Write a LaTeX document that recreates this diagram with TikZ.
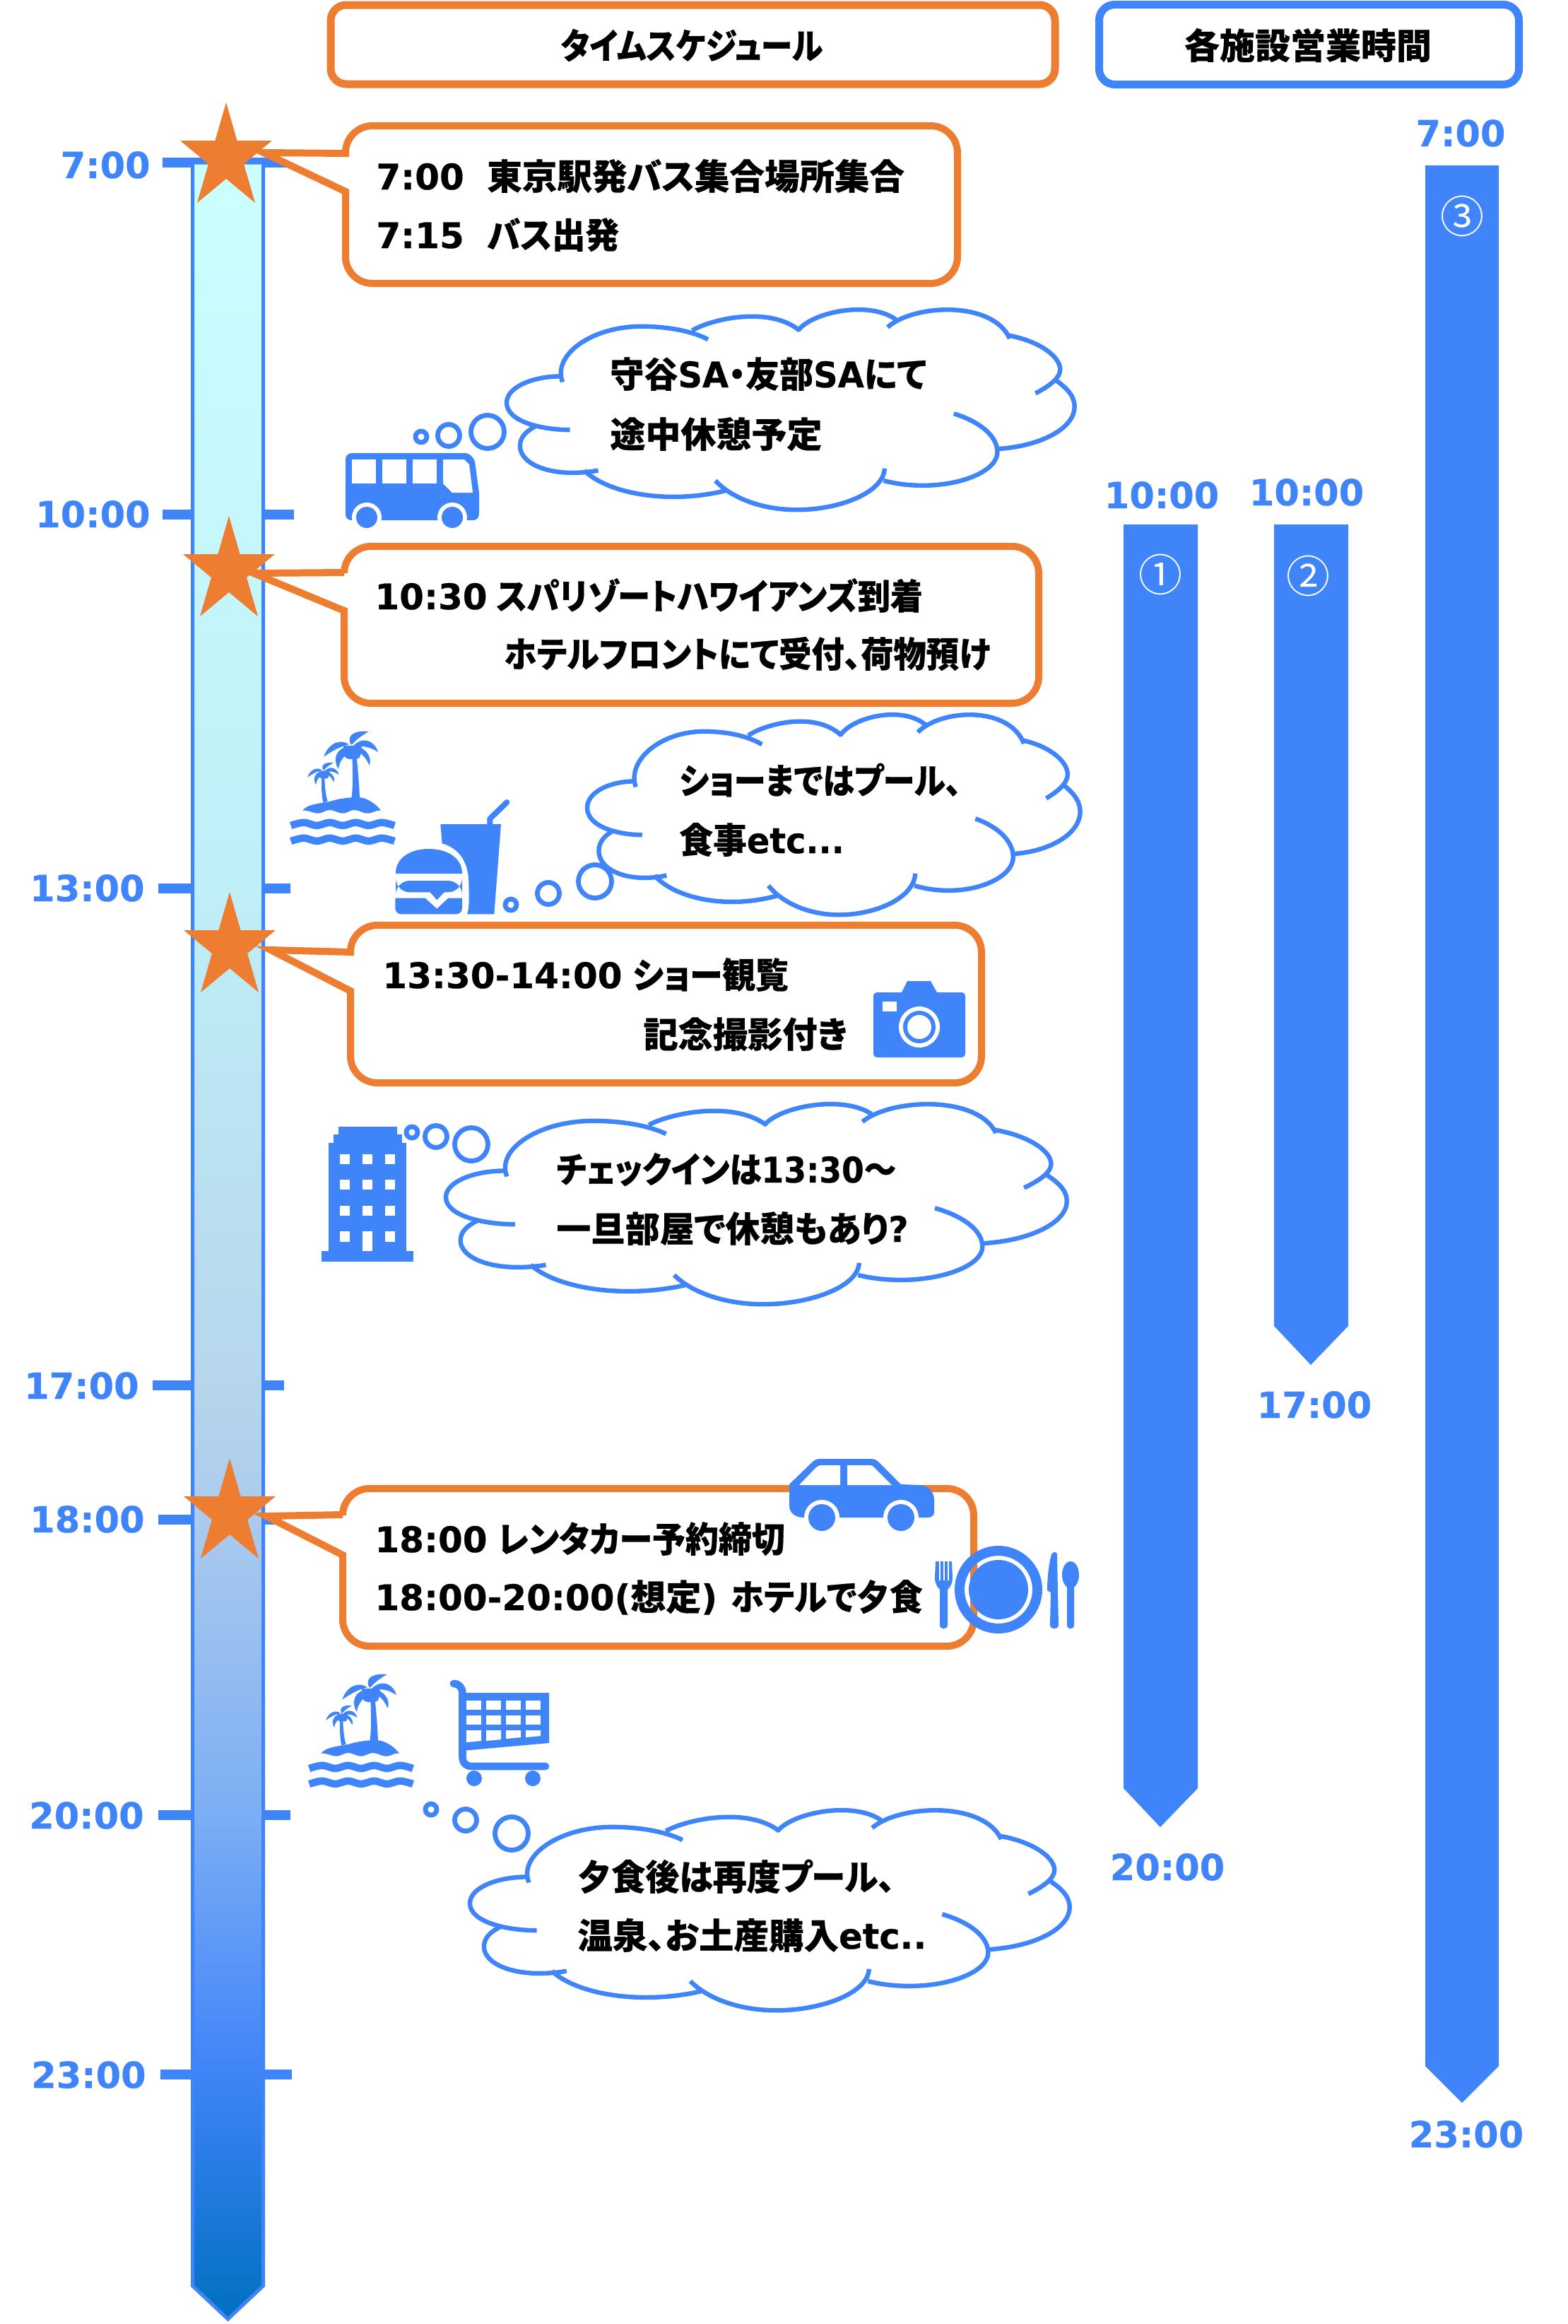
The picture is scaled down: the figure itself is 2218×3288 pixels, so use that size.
\documentclass[tikz,border=0pt]{standalone}
\usepackage{graphicx}
\usepackage{fontspec}
\setmainfont{Noto Sans CJK JP}[RawFeature={+palt},BoldFeatures={FakeBold=0.4}]
\newfontfamily\ltf{DejaVu Sans}[BoldFeatures={FakeBold=0.4}]
\newcommand\latn[1]{{\ltf\bfseries #1}}
\newcommand\pxsize[1]{\fontsize{#1}{#1}\selectfont}
\newcommand\sx[2]{\scalebox{#1}[1]{#2}}
\definecolor{bl}{HTML}{3F84F8}
\definecolor{og}{HTML}{ED7D31}
\definecolor{ga}{HTML}{CBFFFF}
\definecolor{gb}{HTML}{BFEFF7}
\definecolor{gc}{HTML}{B6D6EC}
\definecolor{gd}{HTML}{ABCBEE}
\definecolor{ge}{HTML}{7CAEF4}
\definecolor{gf}{HTML}{3F84F8}
\definecolor{gg}{HTML}{0070C0}
\pgfdeclareverticalshading{tlgrad}{100bp}{color(0bp)=(gg); color(25bp)=(gg); color(30.75bp)=(gf); color(36.75bp)=(ge); color(43.6bp)=(gd); color(46.7bp)=(gc); color(58.2bp)=(gb); color(75bp)=(ga); color(100bp)=(ga)}
\tikzset{
  x=.5pt,y=-.5pt,
  tx/.style={anchor=base west,inner sep=0pt,font=\pxsize{25}\bfseries,text=black},
  tick/.style={line width=7pt,draw=bl},
  tlabel/.style={anchor=base east,inner sep=0pt,font=\pxsize{25.5}\ltf\bfseries,text=bl},
  barlabel/.style={anchor=base,inner sep=0pt,font=\pxsize{25.5}\ltf\bfseries,text=bl},
  circnum/.style={inner sep=0pt,font=\pxsize{31},text=white},
  titlebox/.style={line width=5.5pt,rounded corners=11pt,fill=white},
  titletext/.style={inner sep=0pt,font=\pxsize{25}\bfseries},
  cloudline/.style={draw=bl,line width=3.2pt,line cap=butt},
  ring/.style={draw=bl,line width=3.4pt},
  icon/.style={fill=bl,draw=none},
  hole/.style={fill=white,draw=none},
}
% x0 y0 x1 y1 tipx tipy ya yb
\newcommand\callout[8]{%
  \draw[draw=og,fill=white,line width=5pt,line join=miter]
    (#1,#7) -- (#5,#6) -- (#1,#8) -- (#1,#4-38)
    .. controls (#1,#4-17) and (#1+17,#4) .. (#1+38,#4) -- (#3-38,#4)
    .. controls (#3-17,#4) and (#3,#4-17) .. (#3,#4-38) -- (#3,#2+38)
    .. controls (#3,#2+17) and (#3-17,#2) .. (#3-38,#2) -- (#1+38,#2)
    .. controls (#1+17,#2) and (#1,#2+17) .. (#1,#2+38) -- cycle;}
\newcommand\starshape[2]{%
  \fill[og,shift={(#1,#2)}] (0,0) -- (15.6,54) -- (65,54) -- (25.1,87) -- (41,142) -- (0,108)
     -- (-41,142) -- (-25.1,87) -- (-65,54) -- (-15.6,54) -- cycle;}
% x0 y0 w h
\newcommand\cloudshape[4]{%
  \begin{scope}[shift={(#1,#2)},xscale={#3/1147},yscale={#4/500},shift={(-328,-975)}]
  \draw[cloudline] (456,1275) .. controls (400,1275) and (328,1255) .. (328,1208) .. controls (328,1170) and (380,1143) .. (437,1143);
  \draw[cloudline] (441,1157) .. controls (420,1090) and (500,1020) .. (600,1020) .. controls (650,1020) and (700,1030) .. (735,1052);
  \draw[cloudline] (703,1030) .. controls (745,1000) and (860,970) .. (920,1030);
  \draw[cloudline] (917,1030) .. controls (945,985) and (1060,955) .. (1115,1003);
  \draw[cloudline] (1098,1022) .. controls (1150,965) and (1310,955) .. (1345,1050);
  \draw[cloudline] (1342,1042) .. controls (1400,1055) and (1445,1090) .. (1447,1125) .. controls (1447,1150) and (1420,1170) .. (1397,1185);
  \draw[cloudline] (1435,1150) .. controls (1465,1175) and (1476,1195) .. (1476,1218) .. controls (1476,1270) and (1410,1315) .. (1320,1322);
  \draw[cloudline] (1232,1235) .. controls (1285,1255) and (1320,1290) .. (1320,1330) .. controls (1320,1375) and (1250,1412) .. (1170,1412) .. controls (1140,1412) and (1115,1408) .. (1090,1400);
  \draw[cloudline] (1092,1370) .. controls (1090,1430) and (1000,1472) .. (915,1472) .. controls (840,1472) and (780,1440) .. (750,1400);
  \draw[cloudline] (770,1425) .. controls (650,1460) and (530,1430) .. (485,1375);
  \draw[cloudline] (513,1375) .. controls (420,1395) and (355,1360) .. (355,1315) .. controls (355,1295) and (365,1280) .. (385,1267);
  \end{scope}}
\newcommand\crown{%
  \fill (175,152) .. controls (195,90) and (250,75) .. (282,100) .. controls (250,105) and (205,130) .. (175,152) -- cycle;
  \fill (265,112) .. controls (222,125) and (215,170) .. (237,205) .. controls (240,170) and (262,150) .. (285,125) -- cycle;
  \fill (290,100) .. controls (265,55) and (320,38) .. (365,45) .. controls (340,60) and (315,75) .. (295,100) -- cycle;
  \fill (300,105) .. controls (345,60) and (395,90) .. (405,133) .. controls (375,110) and (340,105) .. (310,110) -- cycle;
  \fill (305,105) .. controls (360,115) and (380,160) .. (368,188) .. controls (355,160) and (335,130) .. (300,125) -- cycle;
  \fill (258,105) -- (335,105) .. controls (335,150) and (325,165) .. (310,160) .. controls (295,160) and (280,170) .. (262,150) -- cycle;}
\newcommand\islandicon[2]{%
  \begin{scope}[shift={(#1,#2)},scale=1/3,bl]
  \begin{scope}\crown\end{scope}
  \fill (295,140) .. controls (297,210) and (300,270) .. (292,328) -- (327,328) .. controls (325,270) and (320,210) .. (313,140) -- cycle;
  \begin{scope}[shift={(175,215)},scale=.58,shift={(-295,-110)}]\crown\end{scope}
  \fill (165,240) .. controls (165,290) and (165,315) .. (172,346) -- (191,342) .. controls (183,315) and (180,290) .. (178,240) -- cycle;
  \fill (85,380) .. controls (105,352) and (160,350) .. (200,342) .. controls (250,325) and (320,320) .. (345,328) .. controls (380,340) and (400,360) .. (418,380)
    .. controls (390,378) and (385,392) .. (360,392) .. controls (340,392) and (325,378) .. (305,378) .. controls (285,378) and (275,392) .. (255,392)
    .. controls (235,392) and (220,378) .. (200,378) .. controls (180,378) and (170,392) .. (150,392) .. controls (130,392) and (110,378) .. (85,380) -- cycle;
  \draw[line width=5.2pt] plot[smooth,tension=.55] coordinates {(35,444)(90,431)(145,444)(200,431)(255,444)(310,431)(365,444)(420,431)(475,444)};
  \draw[line width=5.2pt] plot[smooth,tension=.55] coordinates {(35,510)(90,497)(145,510)(200,497)(255,510)(310,497)(365,510)(420,497)(475,510)};
  \end{scope}}
\begin{document}
\begin{tikzpicture}
\useasboundingbox (0,0) rectangle (2218,3288);
% title boxes
\draw[titlebox,draw=og] (468,7) rectangle (1493,119);
\draw[titlebox,draw=bl] (1555.5,6.5) rectangle (2149.5,119.5);
\node[titletext] (t1) at (979,64) {\sx{.893}{タイムスケジュール}};
\node[titletext] (t2) at (1851,64) {各施設営業時間};
% ticks
\draw[tick] (230,230) -- (416,230);
\draw[tick] (230,728) -- (416,728);
\draw[tick] (224,1257) -- (411,1257);
\draw[tick] (216,1960) -- (402,1960);
\draw[tick] (224,2150) -- (411,2150);
\draw[tick] (224,2568) -- (411,2568);
\draw[tick] (227,2935) -- (413,2935);
% time line column
\shade[shading=tlgrad] (272.5,230) -- (372.5,230) -- (372.5,3234) -- (322.5,3281) -- (272.5,3234) -- cycle;
\draw[draw=bl,line width=2.5pt] (272.5,230) -- (372.5,230) -- (372.5,3234) -- (322.5,3281) -- (272.5,3234) -- cycle;
% time labels
\node[tlabel] (a7) at (213,252) {7:00};
\node[tlabel] (a10) at (213,746) {10:00};
\node[tlabel] (a13) at (205,1275) {13:00};
\node[tlabel] (a17) at (197,1979) {17:00};
\node[tlabel] (a18) at (205,2168) {18:00};
\node[tlabel] (a20) at (204,2587) {20:00};
\node[tlabel] (a23) at (207,2954) {23:00};
% callouts
\callout{489}{178}{1355}{401}{373}{216}{217}{271}
\callout{487}{773}{1470}{995}{359}{811}{810}{864}
\callout{496}{1309}{1389}{1532}{383}{1344}{1347}{1402}
\callout{485}{2106}{1378}{2329}{377}{2145}{2143}{2200}
% stars
\starshape{320}{145}
\starshape{324}{730}
\starshape{325}{1262}
\starshape{325}{2063}
% callout text
\node[tx] (c1a) at (532,268) {\makebox[78.5pt][l]{\latn{7:00}}\sx{.99}{東京駅発バス集合場所集合}};
\node[tx] (c1b) at (532,351) {\makebox[78.5pt][l]{\latn{7:15}}\sx{.95}{バス出発}};
\node[tx] (c2a) at (530,862) {\makebox[86pt][l]{\latn{10:30}}\sx{.923}{スパリゾートハワイアンズ到着}};
\node[tx] (c2b) at (713,944) {\sx{.927}{ホテルフロントにて受付、荷物預け}};
\node[tx] (c3a) at (541,1398) {\makebox[177pt][l]{\latn{13:30-14:00}}\sx{.937}{ショー観覧}};
\node[tx] (c3b) at (910,1482) {\sx{.985}{記念撮影付き}};
\node[tx] (c4a) at (530,2196) {\makebox[87pt][l]{\latn{18:00}}\sx{.94}{レンタカー予約締切}};
\node[tx] (c4b) at (530,2278) {\makebox[252pt][l]{\latn{18:00-20:00(}想定\latn{)}}\sx{.935}{ホテルで夕食}};
% clouds
\cloudshape{717}{436}{803}{287}
\cloudshape{831}{1009}{697}{287}
\cloudshape{631}{1560}{878}{287}
\cloudshape{665}{2559}{848}{287}
\draw[ring] (690,611) circle (23.5);
\draw[ring] (635,616) circle (15.5);
\draw[ring] (596,618) circle (8);
\draw[ring] (842,1247) circle (23.5);
\draw[ring] (776,1264) circle (15.5);
\draw[ring] (723,1280) circle (8);
\draw[ring] (667,1619) circle (23.5);
\draw[ring] (617,1608) circle (15.5);
\draw[ring] (583,1602) circle (8);
\draw[ring] (724,2594) circle (23.5);
\draw[ring] (659,2575) circle (15.5);
\draw[ring] (610,2560) circle (8);
% cloud text
\node[tx] (k1a) at (863,548) {\sx{.96}{守谷\latn{SA}・友部\latn{SA}にて}};
\node[tx] (k1b) at (863,633) {途中休憩予定};
\node[tx] (k2a) at (961,1123) {\sx{.90}{ショーまではプール、}};
\node[tx] (k2b) at (961,1207) {\sx{.955}{食事\latn{etc...}}};
\node[tx] (k3a) at (787,1673) {\sx{.913}{チェックインは\latn{13:30}〜}};
\node[tx] (k3b) at (787,1757) {\sx{.975}{一旦部屋で休憩もあり\latn{?}}};
\node[tx] (k4a) at (817,2674) {\sx{.96}{夕食後は再度プール、}};
\node[tx] (k4b) at (817,2757) {\sx{.99}{温泉、お土産購入\latn{etc..}}};
% bars
\fill[bl] (1590,742) -- (1695,742) -- (1695,2530) -- (1642,2585) -- (1590,2530) -- cycle;
\fill[bl] (1803,742) -- (1908,742) -- (1908,1876) -- (1855,1931) -- (1803,1876) -- cycle;
\fill[bl] (2017,234) -- (2121,234) -- (2121,2923) -- (2069,2975) -- (2017,2923) -- cycle;
\node[circnum] (n1) at (1642,813) {①};
\node[circnum] (n2) at (1851,815) {②};
\node[circnum] (n3) at (2069,306) {③};
\node[barlabel] (b7) at (2067,207) {7:00};
\node[barlabel] (b10a) at (1644,719) {10:00};
\node[barlabel] (b10b) at (1849,715) {10:00};
\node[barlabel] (b17) at (1860,2006) {17:00};
\node[barlabel] (b20) at (1652,2660) {20:00};
\node[barlabel] (b23) at (2075,3038) {23:00};
% bus
\fill[icon] (489,650) .. controls (489,645) and (493,641) .. (498,641) -- (657,641) .. controls (665,641) and (670,647) .. (672,653) -- (678,697) -- (678,726) .. controls (678,732) and (675,736) .. (670,736) -- (497,736) .. controls (492,736) and (489,732) .. (489,728) -- cycle;
\fill[hole] (498,650) rectangle (532,684);
\fill[hole] (541,650) rectangle (575,684);
\fill[hole] (584,650) rectangle (618,684);
\fill[hole] (627,650) -- (657,650) -- (664,657) -- (669,697) -- (640,697) -- (627,684) -- cycle;
\fill[hole] (519,732) circle (21);
\fill[hole] (640,732) circle (21);
\fill[icon] (519,732) circle (15);
\fill[icon] (640,732) circle (15);
% islands
\islandicon{400}{1020}
\islandicon{426}{2354}
% burger and drink
\begin{scope}[shift={(400,1020)},scale=1/3,bl]
\draw[line width=4pt,line cap=round,line join=round] (880,438) -- (880,415) -- (952,345);
\fill (670,438) -- (927,438) -- (898,820) -- (783,820) .. controls (795,790) and (790,720) .. (790,690) .. controls (790,600) and (750,540) .. (677,520) -- cycle;
\fill (480,648) .. controls (480,575) and (550,543) .. (620,543) .. controls (690,543) and (762,575) .. (762,648) -- cycle;
\fill[rounded corners=10pt] (480,678) rectangle (762,727);
\fill (620,720) -- (655,760) -- (692,720) -- cycle;
\fill (478,752) -- (605,752) -- (655,797) -- (703,752) -- (762,752) -- (762,795) .. controls (762,810) and (750,820) .. (735,820) -- (505,820) .. controls (490,820) and (478,810) .. (478,795) -- cycle;
\end{scope}
% camera
\fill[icon,rounded corners=2.5pt] (1236,1404) rectangle (1366,1496);
\fill[icon] (1275,1406) -- (1284,1388) -- (1317,1388) -- (1327,1406) -- cycle;
\fill[hole] (1249,1417) rectangle (1269,1431);
\fill[hole] (1301,1453) circle (29);
\fill[icon] (1301,1453) circle (23);
\fill[hole] (1301,1453) circle (17);
% building
\fill[icon] (455,1770) rectangle (585,1785);
\fill[icon] (465,1617) rectangle (575,1770);
\fill[icon] (472,1605) rectangle (569,1620);
\fill[icon] (479,1594) rectangle (562,1608);
\foreach \wx in {481,513,545}{
  \foreach \wy in {1633,1669,1706}{
    \fill[hole] (\wx,\wy) rectangle ++(14,14);}}
\fill[hole] (481,1742) rectangle ++(14,15);
\fill[hole] (545,1742) rectangle ++(14,15);
\fill[hole] (513,1742) rectangle (527,1770);
% car
\fill[icon] (1117,2100) -- (1148,2070) .. controls (1152,2066) and (1155,2064) .. (1160,2064) -- (1233,2064) .. controls (1238,2064) and (1241,2066) .. (1244,2069) -- (1275,2100) -- (1300,2101) .. controls (1315,2101) and (1322,2112) .. (1322,2122) -- (1322,2140) .. controls (1322,2144) and (1318,2147) .. (1313,2147) -- (1137,2147) .. controls (1125,2147) and (1117,2140) .. (1117,2130) -- cycle;
\fill[hole] (1131,2101) -- (1155,2076) .. controls (1157,2074) and (1160,2073) .. (1162,2073) -- (1189,2073) -- (1189,2101) -- cycle;
\fill[hole] (1199,2073) -- (1232,2073) .. controls (1234,2073) and (1236,2075) .. (1237,2076) -- (1262,2101) -- (1199,2101) -- cycle;
\fill[hole] (1163,2147) circle (25);
\fill[hole] (1275,2147) circle (25);
\fill[icon] (1163,2147) circle (19);
\fill[icon] (1275,2147) circle (19);
% plate and cutlery
\fill[icon,even odd rule] (1413,2249) circle (62) (1413,2249) circle (48);
\fill[icon] (1413,2249) circle (42);
\fill[icon] (1324,2209) -- (1347,2209) -- (1348,2232) .. controls (1348,2240) and (1345,2245) .. (1341,2249) -- (1341,2299) .. controls (1341,2306) and (1330,2306) .. (1330,2299) -- (1330,2249) .. controls (1326,2245) and (1323,2240) .. (1323,2232) -- cycle;
\fill[hole] (1329,2209) rectangle (1330.5,2236);
\fill[hole] (1335,2209) rectangle (1336.5,2236);
\fill[hole] (1341,2209) rectangle (1342.5,2236);
\fill[icon] (1492,2196) .. controls (1496,2196) and (1496,2198) .. (1496,2202) -- (1498,2299) .. controls (1498,2306) and (1486,2306) .. (1486,2299) -- (1487,2253) -- (1482,2250) .. controls (1482,2235) and (1484,2215) .. (1487,2203) .. controls (1488,2198) and (1489,2196) .. (1492,2196) -- cycle;
\fill[icon] (1515,2228) ellipse (12 and 19);
\fill[icon] (1510,2240) -- (1520,2240) -- (1520,2299) .. controls (1520,2306) and (1510,2306) .. (1510,2299) -- cycle;
% cart
\draw[bl,line width=5.3pt,line cap=round,line join=round] (642,2382) .. controls (650,2382) and (654.5,2388) .. (654.5,2396) -- (654.5,2485) .. controls (654.5,2495) and (660,2499) .. (668,2499) -- (772,2499);
\fill[icon] (654,2395) -- (777,2395) -- (777,2466) -- (654,2477) -- cycle;
\fill[hole] (660,2406) rectangle (681,2419); \fill[hole] (688,2406) rectangle (709,2419);
\fill[hole] (716,2406) rectangle (737,2419); \fill[hole] (744,2406) rectangle (765,2419);
\fill[hole] (660,2427) rectangle (681,2440); \fill[hole] (688,2427) rectangle (709,2440);
\fill[hole] (716,2427) rectangle (737,2440); \fill[hole] (744,2427) rectangle (765,2440);
\fill[hole] (660,2448) -- (681,2448) -- (681,2463) -- (660,2465) -- cycle;
\fill[hole] (688,2448) -- (709,2448) -- (709,2461) -- (688,2463) -- cycle;
\fill[hole] (716,2448) -- (737,2448) -- (737,2458) -- (716,2460) -- cycle;
\fill[hole] (744,2448) -- (765,2448) -- (765,2456) -- (744,2458) -- cycle;
\fill[icon] (671,2516) circle (11);
\fill[icon] (754,2516) circle (11);
\end{tikzpicture}
\end{document}
